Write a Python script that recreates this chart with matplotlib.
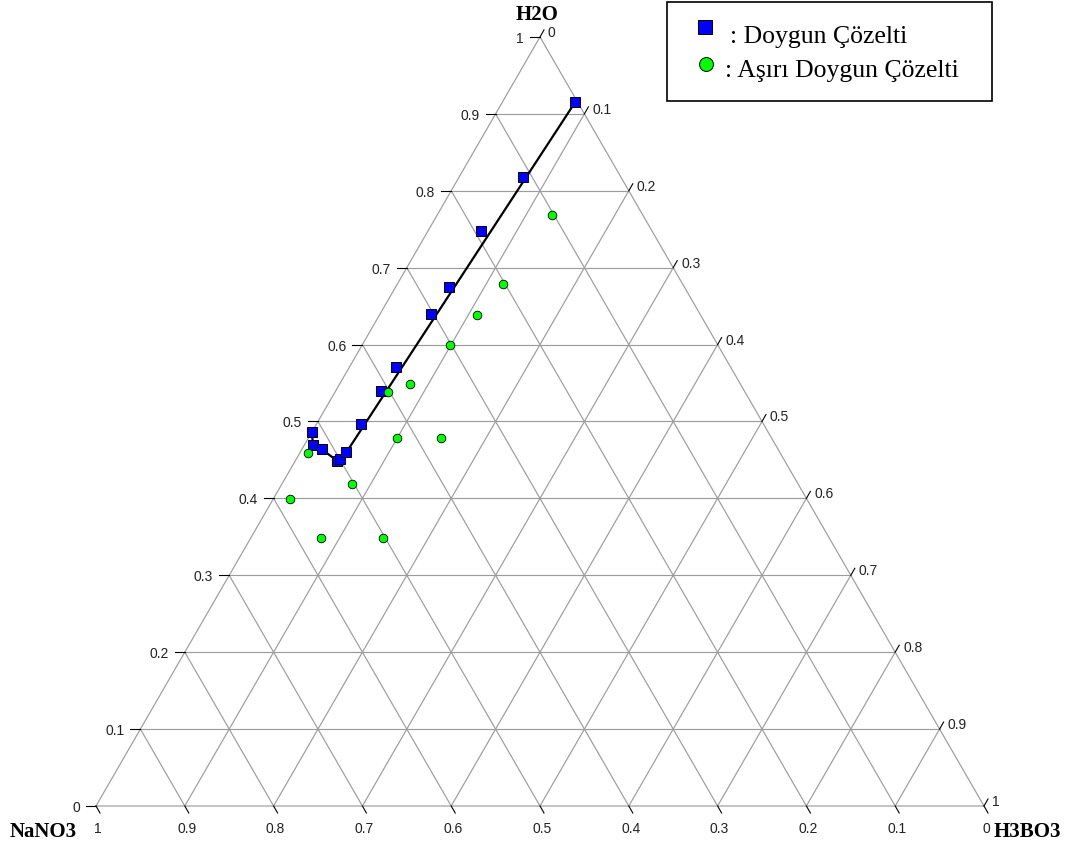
import matplotlib
matplotlib.use("Agg")
import matplotlib.pyplot as plt
from matplotlib.lines import Line2D
from matplotlib.patches import Rectangle
import numpy as np

# mass fractions: (H2O, H3BO3); NaNO3 = 1 - H2O - H3BO3
SAT_H2O = [0.915, 0.818, 0.748, 0.675, 0.640, 0.571, 0.540, 0.497,
           0.486, 0.469, 0.464, 0.449, 0.451, 0.460]
SAT_H3BO3 = [0.082, 0.072, 0.060, 0.060, 0.057, 0.052, 0.051, 0.050,
             0.000, 0.010, 0.022, 0.047, 0.049, 0.052]

SUPER_H2O = [0.769, 0.679, 0.638, 0.599, 0.549, 0.538, 0.479, 0.479,
             0.459, 0.419, 0.399, 0.349, 0.349]
SUPER_H3BO3 = [0.129, 0.119, 0.110, 0.099, 0.079, 0.060, 0.100, 0.149,
               0.009, 0.079, 0.019, 0.079, 0.149]

# solubility curve
CURVE_H2O = [0.915, 0.460, 0.451, 0.449, 0.464, 0.469, 0.486]
CURVE_H3BO3 = [0.082, 0.052, 0.049, 0.047, 0.022, 0.010, 0.000]

TICKS = [round(k / 10, 1) for k in range(11)]
TICK_LABELS = ["0", "0.1", "0.2", "0.3", "0.4", "0.5", "0.6", "0.7", "0.8", "0.9", "1"]

S = np.sqrt(3) / 2
PX = 1 / 888  # one pixel in data units


def cart(w, b):
    w = np.asarray(w, float)
    b = np.asarray(b, float)
    return b + w / 2, w * S


fig = plt.figure(figsize=(10.75, 8.5), dpi=100)
ax = fig.add_axes([0, 0, 1, 1])
ax.set_xlim(-96 * PX, 979 * PX)
ax.set_ylim(-44 * PX, 806 * PX)
ax.axis("off")

grid = dict(color="#9c9c9c", lw=0.85, zorder=1)
# outline
ax.plot([0, 1, 0.5, 0], [0, 0, S, 0], **grid)
for t in TICKS[1:-1]:
    # constant H2O
    x, y = cart([t, t], [0, 1 - t])
    ax.plot(x, y, **grid)
    # constant H3BO3
    x, y = cart([0, 1 - t], [t, t])
    ax.plot(x, y, **grid)
    # constant NaNO3
    x, y = cart([0, 1 - t], [1 - t, 0])
    ax.plot(x, y, **grid)

tick_kw = dict(color="black", lw=0.8, zorder=2)
lab_kw = dict(fontsize=10, color="#222222", family="Liberation Sans")
for t, lab in zip(TICKS, TICK_LABELS):
    # left side: H2O
    x, y = cart(t, 0)
    ax.plot([x - 10 * PX, x], [y, y], **tick_kw)
    ax.text(x - 16 * PX, y - 2 * PX, lab, ha="right", va="center", **lab_kw)
    # right side: H3BO3
    x, y = cart(1 - t, t)
    ax.plot([x, x + 4 * PX], [y, y + 7 * PX], **tick_kw)
    ax.text(x + 8 * PX, y + 4 * PX, lab, ha="left", va="center", **lab_kw)
    # bottom: NaNO3
    x, y = cart(0, 1 - t)
    ax.plot([x, x + 4 * PX], [y, y - 7 * PX], **tick_kw)
    ax.text(x + 2 * PX, y - 23 * PX, lab, ha="center", va="center", **lab_kw)

vert_kw = dict(fontsize=15, fontweight="bold", family="Liberation Serif", color="black")
ax.text(0.5 - 3 * PX, S + 22 * PX, "H2O", ha="center", va="center", **vert_kw)
ax.text(-86 * PX, -26 * PX, "NaNO3", ha="left", va="center", **vert_kw)
ax.text(1 + 10 * PX, -26 * PX, "H3BO3", ha="left", va="center", **vert_kw)

x, y = cart(CURVE_H2O, CURVE_H3BO3)
ax.plot(x, y, color="black", lw=1.6, zorder=3)

x, y = cart(SAT_H2O, SAT_H3BO3)
ax.plot(x, y, ls="none", marker="s", ms=6.5, mfc="#0000ff", mec="black",
        mew=0.7, zorder=4)
x, y = cart(SUPER_H2O, SUPER_H3BO3)
ax.plot(x, y, ls="none", marker="o", ms=6.2, mfc="#00ff00", mec="black",
        mew=0.6, zorder=4)

# legend box drawn by hand in figure pixels
W, H = 1075, 850


def fxy(px, py):
    return px / W, 1 - py / H


x0, y0 = fxy(667, 101)
fig.add_artist(Rectangle((x0, y0), (992 - 667) / W, 99 / H,
                         transform=fig.transFigure, fill=False,
                         edgecolor="black", lw=1.2))
mx, my = fxy(705, 27)
fig.add_artist(Line2D([mx], [my], marker="s", ms=10, mfc="#0000ff", mec="black",
                      mew=0.7, transform=fig.transFigure))
mx, my = fxy(706, 64)
fig.add_artist(Line2D([mx], [my], marker="o", ms=10, mfc="#00ff00", mec="black",
                      mew=0.7, transform=fig.transFigure))
leg_kw = dict(fontsize=18.5, family="Liberation Serif", color="black",
              ha="left", va="baseline")
tx, ty = fxy(730, 43)
fig.text(tx, ty, ": Doygun Çözelti", **leg_kw)
tx, ty = fxy(725, 77)
fig.text(tx, ty, ": Aşırı Doygun Çözelti", **leg_kw)

fig.savefig("out.png", dpi=100)
